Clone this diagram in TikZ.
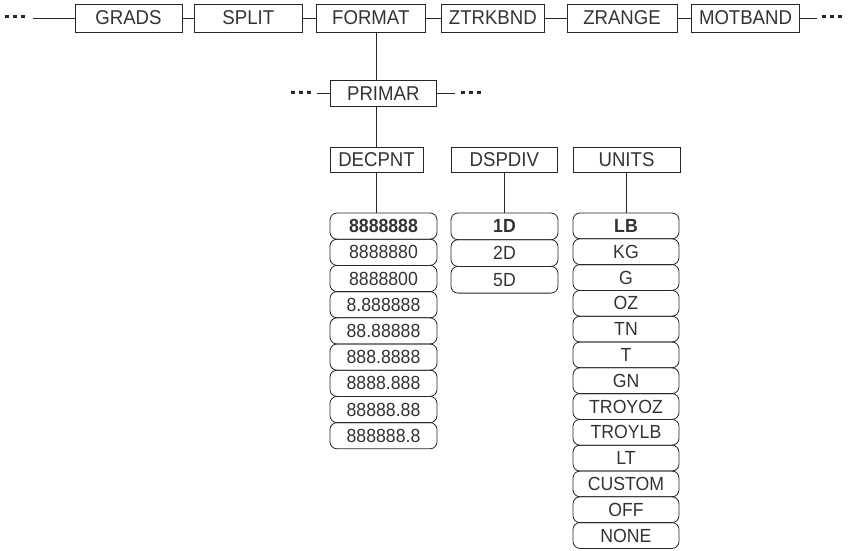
\documentclass[tikz,border=0pt]{standalone}
\usepackage{fontspec}
\setmainfont{Liberation Sans}[FakeStretch=0.93]
\newcommand\tridots{\rule{3.6pt}{3.6pt}\hspace{4.4pt}\rule{3.6pt}{3.6pt}\hspace{4.4pt}\rule{3.6pt}{3.6pt}}
\begin{document}
\begin{tikzpicture}[x=1pt,y=-1pt,
  ink/.style={draw=black!85,line width=0.8pt},
  menubox/.style={ink,rectangle,inner sep=0pt,minimum height=28pt,
    font=\fontsize{20}{22}\selectfont,text=black!80},
  headbox/.style={menubox,minimum height=25pt},
  optbox/.style={ink,rectangle,rounded corners=7pt,inner sep=0pt,
    font=\fontsize{19}{21}\selectfont,text=black!80},
  dotsnode/.style={inner sep=0pt,text=black!85}]
\useasboundingbox (0,0) rectangle (851,551);

% top row
\node[dotsnode] (dl) at (15,16.5) {\tridots};
\node[menubox,minimum width=107pt]   (grads)   at (128.5,18) {GRADS};
\node[menubox,minimum width=108.7pt] (split)   at (248.3,18) {SPLIT};
\node[menubox,minimum width=108.3pt] (format)  at (370.8,18) {FORMAT};
\node[menubox,minimum width=102.3pt] (ztrk)    at (492.8,18) {ZTRKBND};
\node[menubox,minimum width=110pt]   (zrange)  at (622,18) {ZRANGE};
\node[menubox,minimum width=107.6pt] (motband) at (745.5,18) {MOTBAND};
\node[dotsnode] (dr) at (832,16.5) {\tridots};
\coordinate (dlend) at (33,18);
\coordinate (drend) at (817,18);
\draw[ink] (dlend) -- (grads.west);
\draw[ink] (grads.east) -- (split.west);
\draw[ink] (split.east) -- (format.west);
\draw[ink] (format.east) -- (ztrk.west);
\draw[ink] (ztrk.east) -- (zrange.west);
\draw[ink] (zrange.east) -- (motband.west);
\draw[ink] (motband.east) -- (drend);

% PRIMAR
\coordinate (vx) at (376,0);
\node[menubox,minimum width=106.7pt,minimum height=26pt] (primar) at (383.3,93.7) {PRIMAR};
\node[dotsnode] (pl) at (301,92.5) {\tridots};
\node[dotsnode] (pr) at (471,92.5) {\tridots};
\coordinate (plend) at (317,93.7);
\coordinate (prend) at (455,93.7);
\draw[ink] (plend) -- (primar.west);
\draw[ink] (primar.east) -- (prend);
\draw[ink] (format.south -| vx) -- (primar.north -| vx);

% headers
\node[headbox,minimum width=93pt]    (decpnt) at (376.5,159.5) {DECPNT};
\node[headbox,minimum width=106.5pt] (dspdiv) at (504.3,159.5) {DSPDIV};
\node[headbox,minimum width=107pt]   (units)  at (626.5,159.5) {UNITS};
\draw[ink] (primar.south -| vx) -- (decpnt.north -| vx);

% DECPNT options
\foreach \t [count=\i] in {\textbf{8888888},8888880,8888800,8.888888,88.88888,888.8888,8888.888,88888.88,888888.8}
  \node[optbox,minimum width=107pt,minimum height=26.2pt] (d\i) at (383.5,{213+26.2*(\i-0.5)}) {\t};
% DSPDIV options
\foreach \t [count=\i] in {\textbf{1D},2D,5D}
  \node[optbox,minimum width=107pt,minimum height=26.7pt] (s\i) at (504.5,{213+26.7*(\i-0.5)}) {\t};
% UNITS options
\foreach \t [count=\i] in {\textbf{LB},KG,G,OZ,TN,T,GN,TROYOZ,TROYLB,LT,CUSTOM,OFF,NONE}
  \node[optbox,minimum width=106pt,minimum height=25.8pt] (u\i) at (626,{213+25.8*(\i-0.5)}) {\t};

\draw[ink] (decpnt.south -| vx) -- (d1.north -| vx);
\draw[ink] (dspdiv.south) -- (dspdiv.south |- s1.north);
\draw[ink] (units.south) -- (units.south |- u1.north);
\end{tikzpicture}
\end{document}
